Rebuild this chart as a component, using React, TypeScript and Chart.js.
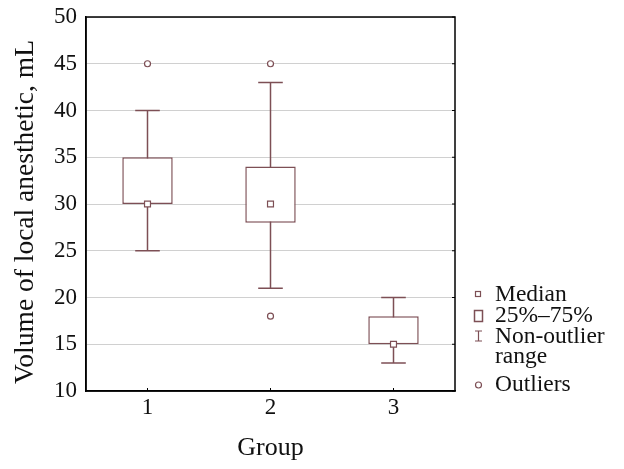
import React, { useEffect, useRef } from "react";
import { Chart, registerables } from "chart.js";

Chart.register(...registerables);

const groups = ["1", "2", "3"];
const q1 = [30, 28, 15];
const q3 = [35, 34, 18];
const medians = [30, 30, 15];
const whiskerLow = [25, 21, 13];
const whiskerHigh = [40, 43, 20];
const outliers = [
  { x: "1", y: 45 },
  { x: "2", y: 45 },
  { x: "2", y: 18 },
];
const yTicks = [10, 15, 20, 25, 30, 35, 40, 45, 50];
const legendItems = ["Median", "25%–75%", "Non-outlier", "range", "Outliers"];

const MAROON = "#7d4f55";
const FONT = "'Liberation Serif', 'DejaVu Serif', serif";

const boxPlotPlugin = {
  id: "boxExtras",
  beforeDatasetsDraw(chart: any) {
    const { ctx, scales } = chart;
    const xs = scales.x;
    const ys = scales.y;
    const step = xs.getPixelForValue(1) - xs.getPixelForValue(0);
    const half = step * 0.1;
    ctx.save();
    ctx.strokeStyle = MAROON;
    ctx.lineWidth = 1.5;
    groups.forEach((_, i) => {
      const x = xs.getPixelForValue(i);
      const yl = ys.getPixelForValue(whiskerLow[i]);
      const yh = ys.getPixelForValue(whiskerHigh[i]);
      ctx.beginPath();
      ctx.moveTo(x, yl);
      ctx.lineTo(x, yh);
      ctx.moveTo(x - half, yl);
      ctx.lineTo(x + half, yl);
      ctx.moveTo(x - half, yh);
      ctx.lineTo(x + half, yh);
      ctx.stroke();
    });
    ctx.restore();
  },
  afterDraw(chart: any) {
    const { ctx, chartArea, scales } = chart;
    const xs = scales.x;
    const ys = scales.y;
    ctx.save();
    // frame
    ctx.strokeStyle = "#000";
    ctx.lineWidth = 1.5;
    ctx.strokeRect(chartArea.left, chartArea.top, chartArea.right - chartArea.left, chartArea.bottom - chartArea.top);
    // inward ticks
    ctx.lineWidth = 1;
    ctx.beginPath();
    yTicks.forEach((v) => {
      const y = ys.getPixelForValue(v);
      ctx.moveTo(chartArea.right, y);
      ctx.lineTo(chartArea.right - 3, y);
    });
    groups.forEach((_, i) => {
      const x = xs.getPixelForValue(i);
      ctx.moveTo(x, chartArea.bottom);
      ctx.lineTo(x, chartArea.bottom - 3);
    });
    ctx.stroke();

    // y title
    ctx.fillStyle = "#111";
    ctx.font = `27.5px ${FONT}`;
    ctx.textAlign = "center";
    ctx.textBaseline = "middle";
    ctx.save();
    ctx.translate(26, 212);
    ctx.rotate(-Math.PI / 2);
    ctx.fillText("Volume of local anesthetic, mL", 0, 0);
    ctx.restore();

    // legend
    const tx = 495;
    const baselines = [301, 322, 343, 363, 391];
    ctx.textAlign = "left";
    ctx.textBaseline = "alphabetic";
    ctx.font = `23.5px ${FONT}`;
    ctx.fillStyle = "#111";
    legendItems.forEach((t, i) => ctx.fillText(t, tx, baselines[i]));

    ctx.strokeStyle = MAROON;
    ctx.lineWidth = 1.2;
    // median marker
    ctx.strokeRect(475.5, 291.5, 5, 5);
    // box marker
    ctx.lineWidth = 1.5;
    ctx.strokeRect(474.5, 310.5, 8, 11);
    // whisker marker
    ctx.lineWidth = 1.2;
    ctx.beginPath();
    ctx.moveTo(475, 331);
    ctx.lineTo(482, 331);
    ctx.moveTo(478.5, 331);
    ctx.lineTo(478.5, 341);
    ctx.moveTo(475, 341);
    ctx.lineTo(482, 341);
    ctx.stroke();
    // outlier marker
    ctx.beginPath();
    ctx.arc(478.5, 385, 3, 0, Math.PI * 2);
    ctx.stroke();
    ctx.restore();
  },
};

export default function App() {
  const ref = useRef<HTMLCanvasElement>(null);
  useEffect(() => {
    if (!ref.current) return;
    const chart = new Chart(ref.current, {
      type: "bar",
      data: {
        labels: groups,
        datasets: [
          {
            type: "line",
            label: "Median",
            data: medians,
            showLine: false,
            pointStyle: "rect",
            pointRadius: 4.2,
            pointBackgroundColor: "#fff",
            pointBorderColor: MAROON,
            pointBorderWidth: 1.2,
            order: 1,
          } as any,
          {
            type: "line",
            label: "Outliers",
            data: outliers as any,
            showLine: false,
            pointStyle: "circle",
            pointRadius: 3,
            pointBackgroundColor: "#fff",
            pointBorderColor: MAROON,
            pointBorderWidth: 1.2,
            order: 2,
          } as any,
          {
            type: "bar",
            label: "25%–75%",
            data: groups.map((_, i) => [q1[i], q3[i]]) as any,
            backgroundColor: "#fff",
            borderColor: MAROON,
            borderWidth: 1.5,
            borderSkipped: false,
            categoryPercentage: 1,
            barPercentage: 0.41,
            order: 3,
          } as any,
        ],
      },
      options: {
        responsive: false,
        animation: false,
        layout: { padding: { left: 0, top: 17, right: 169, bottom: 0 } },
        plugins: { legend: { display: false }, tooltip: { enabled: false } },
        scales: {
          x: {
            type: "category",
            offset: true,
            grid: { display: false, drawTicks: false },
            border: { display: true, color: "#000", width: 1.5 },
            ticks: { color: "#111", font: { family: FONT, size: 23 }, padding: 3 },
            title: {
              display: true,
              text: "Group",
              color: "#111",
              font: { family: FONT, size: 26 },
              padding: { top: 0, bottom: 5 },
            },
            afterFit: (s: any) => {
              s.height = 78;
              s.paddingLeft = 0;
              s.paddingRight = 0;
            },
          },
          y: {
            min: 10,
            max: 50,
            ticks: {
              stepSize: 5,
              color: "#111",
              font: { family: FONT, size: 23 },
              padding: 9,
            },
            grid: { color: "#d0d0d0", lineWidth: 1, drawTicks: false },
            border: { display: true, color: "#000", width: 1.5 },
            afterFit: (s: any) => {
              s.width = 86;
              s.paddingTop = 0;
              s.paddingBottom = 0;
            },
          },
        },
      },
      plugins: [boxPlotPlugin],
    });
    return () => chart.destroy();
  }, []);
  return (
    <div style={{ position: "fixed", left: 0, top: 0, width: 624, height: 469, background: "#fff" }}>
      <canvas ref={ref} width={624} height={469} />
    </div>
  );
}
